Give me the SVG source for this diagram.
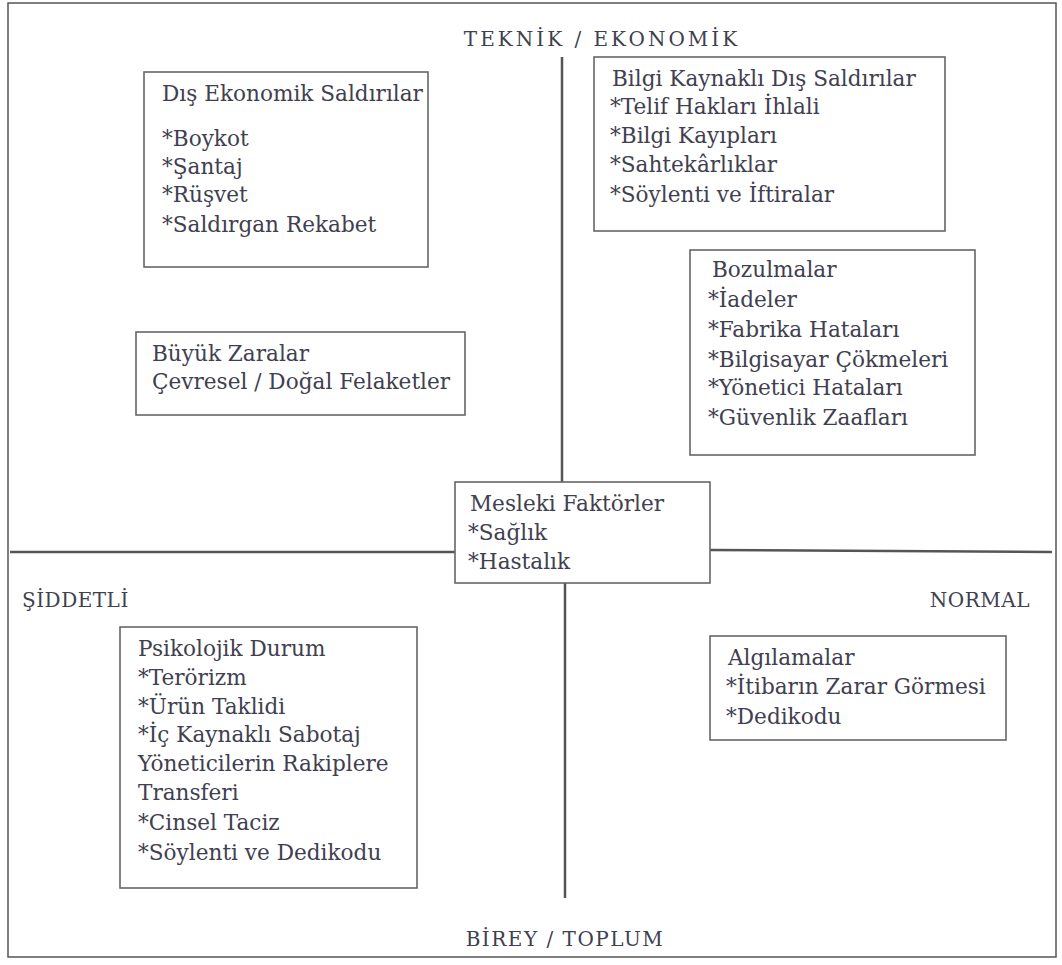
<svg xmlns="http://www.w3.org/2000/svg" width="1062" height="965" viewBox="0 0 1062 965">
<style>
.bg{fill:#ffffff}
.frame{fill:none;stroke:#555;stroke-width:1.5}
.box{fill:#ffffff;stroke:#666;stroke-width:1.6}
.axis{stroke:#555;stroke-width:2.5;fill:none}
text{font-family:"DejaVu Serif","Liberation Serif",serif;font-size:21.6px;fill:#404050}
.lab{font-size:20px}
</style>
<rect class="bg" x="0" y="0" width="1062" height="965"/>
<rect class="frame" x="8" y="3" width="1048" height="954"/>
<g id="connectors">
<line class="axis" x1="562" y1="57" x2="562" y2="482"/>
<line class="axis" x1="565" y1="583" x2="565" y2="898"/>
<line class="axis" x1="10" y1="552" x2="455" y2="552"/>
<line class="axis" x1="710" y1="550" x2="1052" y2="552"/>
</g>
<g id="axis-labels">
<text class="lab" x="602" y="46" text-anchor="middle" letter-spacing="3">TEKNİK / EKONOMİK</text>
<text class="lab" x="22" y="607" letter-spacing="0.5">ŞİDDETLİ</text>
<text class="lab" x="1030" y="607" text-anchor="end" letter-spacing="0.5">NORMAL</text>
<text class="lab" x="565" y="946" text-anchor="middle" letter-spacing="1.5">BİREY / TOPLUM</text>
</g>
<g id="dis-ekonomik">
<rect class="box" x="144" y="72" width="284" height="195"/>
<text x="162" y="101">Dış Ekonomik Saldırılar</text>
<text x="162" y="146">*Boykot</text>
<text x="162" y="174">*Şantaj</text>
<text x="162" y="202">*Rüşvet</text>
<text x="162" y="232">*Saldırgan Rekabet</text>
</g>
<g id="bilgi-kaynakli">
<rect class="box" x="594" y="57" width="351" height="174"/>
<text x="612" y="86">Bilgi Kaynaklı Dış Saldırılar</text>
<text x="610" y="114">*Telif Hakları İhlali</text>
<text x="610" y="143">*Bilgi Kayıpları</text>
<text x="610" y="172">*Sahtekârlıklar</text>
<text x="610" y="202">*Söylenti ve İftiralar</text>
</g>
<g id="bozulmalar">
<rect class="box" x="690" y="250" width="285" height="205"/>
<text x="712" y="277">Bozulmalar</text>
<text x="708" y="307">*İadeler</text>
<text x="708" y="337">*Fabrika Hataları</text>
<text x="708" y="367">*Bilgisayar Çökmeleri</text>
<text x="708" y="395">*Yönetici Hataları</text>
<text x="708" y="425">*Güvenlik Zaafları</text>
</g>
<g id="buyuk-zaralar">
<rect class="box" x="136" y="332" width="329" height="83"/>
<text x="152" y="361">Büyük Zaralar</text>
<text x="152" y="389">Çevresel / Doğal Felaketler</text>
</g>
<g id="mesleki">
<rect class="box" x="455" y="482" width="255" height="101"/>
<text x="470" y="511">Mesleki Faktörler</text>
<text x="468" y="540">*Sağlık</text>
<text x="468" y="569">*Hastalık</text>
</g>
<g id="psikolojik">
<rect class="box" x="120" y="627" width="297" height="261"/>
<text x="138" y="656">Psikolojik Durum</text>
<text x="138" y="685">*Terörizm</text>
<text x="138" y="714">*Ürün Taklidi</text>
<text x="138" y="742">*İç Kaynaklı Sabotaj</text>
<text x="138" y="771">Yöneticilerin Rakiplere</text>
<text x="138" y="800">Transferi</text>
<text x="138" y="830">*Cinsel Taciz</text>
<text x="138" y="860">*Söylenti ve Dedikodu</text>
</g>
<g id="algilamalar">
<rect class="box" x="710" y="636" width="296" height="104"/>
<text x="728" y="665">Algılamalar</text>
<text x="726" y="694">*İtibarın Zarar Görmesi</text>
<text x="726" y="724">*Dedikodu</text>
</g>
</svg>
